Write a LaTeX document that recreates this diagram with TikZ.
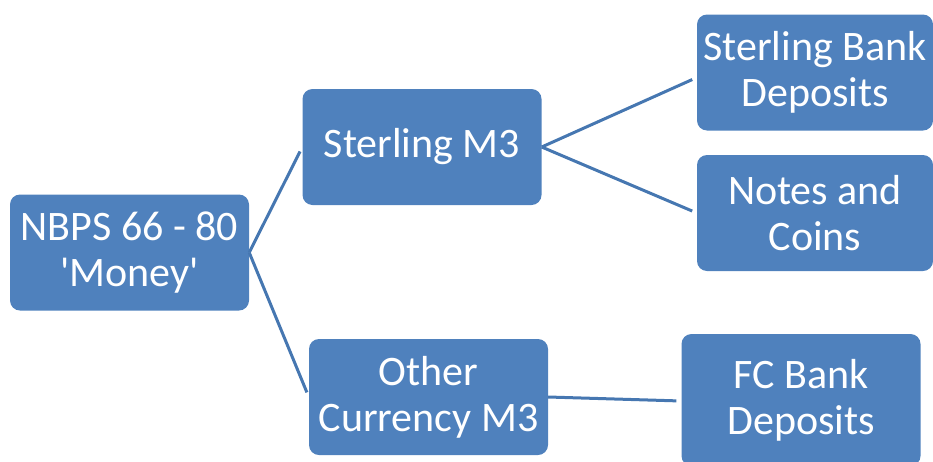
\documentclass[tikz,border=0pt]{standalone}
\usepackage{fontspec}
\setmainfont{Carlito}
\definecolor{boxblue}{HTML}{4F81BD}
\definecolor{lineblue}{HTML}{4677B1}
\tikzset{
  box/.style={fill=boxblue, rounded corners=10pt, text=white, align=center,
    inner sep=0pt, minimum width=239pt, minimum height=116pt,
    font=\fontsize{42}{46}\selectfont},
  link/.style={draw=lineblue, line width=3pt, shorten >=5pt}
}

\begin{document}
\begin{tikzpicture}[x=1pt, y=-1pt]
            \useasboundingbox (0,0) rectangle (933,461);
            \clip (0,0) rectangle (933,461);

            \node[box] (money) at (129.5,252.5) {NBPS 66 - 80\\\textquotesingle Money\textquotesingle};
            \node[box] (sterling) at (422,147) {Sterling M3};
            \node[box] (other) at (428.5,397) {Other\\Currency M3};

            \node[box, minimum width=236pt] (bank) at (815,72.5) {Sterling Bank\\Deposits};
            \node[box, minimum width=236pt] (notes) at (815,213) {Notes and\\Coins};
            \node[box, minimum height=132pt] (fc) at (801,400) {FC Bank\\Deposits};

            \draw[link] (money.east) -- (sterling.west);
            \draw[link] (money.east) -- (other.west);
            \draw[link] (sterling.east) -- ([yshift=-5pt]bank.west);
            \draw[link] (sterling.east) -- (notes.west);
            \draw[link] (other.east) -- ([yshift=-1pt]fc.west);
        \end{tikzpicture}
\end{document}
